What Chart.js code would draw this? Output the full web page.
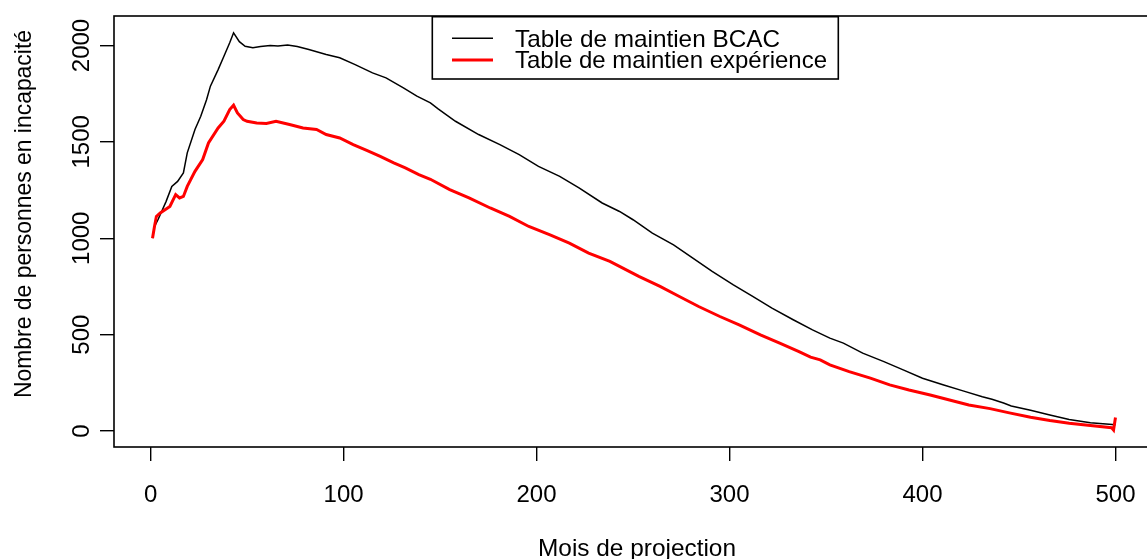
<!DOCTYPE html>
<html><head><meta charset="utf-8">
<script src="https://cdn.jsdelivr.net/npm/chart.js@4/dist/chart.umd.min.js"></script>
<style>
html,body{margin:0;padding:0;overflow:hidden;background:#fff;width:1147px;height:559px}
canvas{display:block}
</style></head>
<body>
<canvas id="c" width="1160" height="559" style="width:1160px;height:559px"></canvas>
<script>
// ---- data ----
const monthsBCAC = [1,2,4,8,11,14,17,19,23,26,29,31,35,38,41,43,46,49,53,57,62,66,71,76,82,91,98,106,115,122,131,138,145,149,158,170,181,191,201,212,222,234,243,250,260,271,281,291,302,312,322,333,343,352,359,369,380,390,400,411,421,431,436,442,446,456,466,476,487,500];
const valuesBCAC = [1000,1060,1100,1190,1269,1295,1339,1443,1564,1633,1719,1789,1875,1944,2014,2066,2020,1996,1988,1995,2000,1998,2002,1995,1979,1953,1936,1901,1858,1832,1780,1737,1702,1671,1607,1538,1486,1434,1373,1321,1261,1183,1139,1096,1027,966,897,828,758,698,637,577,525,482,456,404,360,317,274,239,208,178,165,145,130,108,83,60,43,33];
const monthsExp = [1,2,3,5,10,13,15,17,19,23,27,30,35,38,41,43,45,48,50,55,60,65,72,79,86,91,98,105,112,119,126,132,139,145,155,165,176,186,196,207,217,227,238,248,253,264,274,284,295,305,316,326,336,342,347,352,362,373,383,393,404,414,424,435,445,456,466,476,487,498,499,500];
const valuesExp = [1000,1060,1113,1131,1165,1226,1209,1217,1269,1347,1408,1494,1572,1607,1668,1690,1650,1616,1607,1598,1595,1607,1590,1572,1564,1538,1520,1486,1456,1425,1391,1365,1330,1306,1252,1209,1157,1113,1061,1018,975,923,880,828,802,750,698,646,594,551,499,456,412,383,369,343,308,274,239,213,187,161,135,116,94,71,54,40,28,17,5,70];
const xTickValues = [0,100,200,300,400,500];
const yTickValues = [0,500,1000,1500,2000];
const seriesLabels = ['Table de maintien BCAC','Table de maintien expérience'];
const seriesColors = ['#000000','#ff0000'];
const xTitle = 'Mois de projection';
const yTitle = 'Nombre de personnes en incapacité';

const FONT = '"Liberation Sans", Arial, sans-serif';

function fitText(ctx, text, x, y, width, size, align) {
  ctx.save();
  ctx.font = size + 'px ' + FONT;
  const w = ctx.measureText(text).width;
  const k = width / w;
  ctx.translate(x, y);
  ctx.scale(k, 1);
  ctx.textAlign = align || 'left';
  ctx.textBaseline = 'alphabetic';
  ctx.fillText(text, 0, 0);
  ctx.restore();
}

const rPlot = {
  id: 'rPlot',
  afterDraw(chart) {
    const ctx = chart.ctx;
    const a = chart.chartArea;
    const xs = chart.scales.x, ys = chart.scales.y;
    ctx.save();
    ctx.fillStyle = '#000';
    ctx.strokeStyle = '#000';
    // frame
    ctx.lineWidth = 1.6;
    ctx.strokeRect(a.left, a.top, a.right - a.left, a.bottom - a.top);
    // x tick labels
    ctx.font = '24px ' + FONT;
    ctx.textAlign = 'center';
    ctx.textBaseline = 'alphabetic';
    xs.ticks.forEach(t => {
      ctx.fillText(String(t.value), xs.getPixelForValue(t.value), 502);
    });
    // y tick labels, rotated
    ys.ticks.forEach(t => {
      ctx.save();
      ctx.translate(88.5, ys.getPixelForValue(t.value));
      ctx.rotate(-Math.PI / 2);
      ctx.fillText(String(t.value), 0, 0);
      ctx.restore();
    });
    // axis titles
    fitText(ctx, xTitle, 637, 556, 198, 24, 'center');
    ctx.save();
    ctx.translate(31, 214);
    ctx.rotate(-Math.PI / 2);
    fitText(ctx, yTitle, 0, 0, 368, 24, 'center');
    ctx.restore();
    // legend
    const lx0 = 432.3, ly0 = 16.7, lx1 = 838.3, ly1 = 79;
    ctx.fillStyle = '#fff';
    ctx.fillRect(lx0, ly0, lx1 - lx0, ly1 - ly0);
    ctx.lineWidth = 1.6;
    ctx.strokeRect(lx0, ly0, lx1 - lx0, ly1 - ly0);
    const rows = [38.3, 60];
    const bases = [46.7, 68.3];
    const widths = [265, 312];
    chart.data.datasets.forEach((ds, i) => {
      ctx.strokeStyle = ds.borderColor;
      ctx.lineWidth = ds.borderWidth;
      ctx.beginPath();
      ctx.moveTo(452, rows[i]);
      ctx.lineTo(493, rows[i]);
      ctx.stroke();
      ctx.fillStyle = '#000';
      fitText(ctx, ds.label, 515, bases[i], widths[i], 24, 'left');
    });
    ctx.restore();
  }
};

new Chart(document.getElementById('c'), {
  type: 'line',
  data: {
    datasets: [
      {
        label: seriesLabels[0],
        data: monthsBCAC.map((m, i) => ({x: m, y: valuesBCAC[i]})),
        borderColor: seriesColors[0],
        borderWidth: 1.5,
        pointRadius: 0,
        tension: 0,
        fill: false,
        order: 1
      },
      {
        label: seriesLabels[1],
        data: monthsExp.map((m, i) => ({x: m, y: valuesExp[i]})),
        borderColor: seriesColors[1],
        borderWidth: 3,
        pointRadius: 0,
        tension: 0,
        fill: false,
        order: 0
      }
    ]
  },
  options: {
    responsive: false,
    animation: false,
    devicePixelRatio: 1,
    layout: {padding: {top: 16, right: 6, left: 0, bottom: 0}},
    plugins: {legend: {display: false}, tooltip: {enabled: false}, title: {display: false}},
    scales: {
      x: {
        type: 'linear',
        min: -18.96,
        max: 519.96,
        afterBuildTicks: s => { s.ticks = xTickValues.map(v => ({value: v})); },
        afterFit: s => { s.height = 112; },
        ticks: {display: false},
        grid: {drawOnChartArea: false, drawTicks: true, tickLength: 14, color: '#000', lineWidth: 1.4},
        border: {display: false}
      },
      y: {
        type: 'linear',
        min: -83,
        max: 2153,
        afterBuildTicks: s => { s.ticks = yTickValues.map(v => ({value: v})); },
        afterFit: s => { s.width = 114; },
        ticks: {display: false},
        grid: {drawOnChartArea: false, drawTicks: true, tickLength: 14, color: '#000', lineWidth: 1.4},
        border: {display: false}
      }
    }
  },
  plugins: [rPlot]
});
</script>
</body></html>
